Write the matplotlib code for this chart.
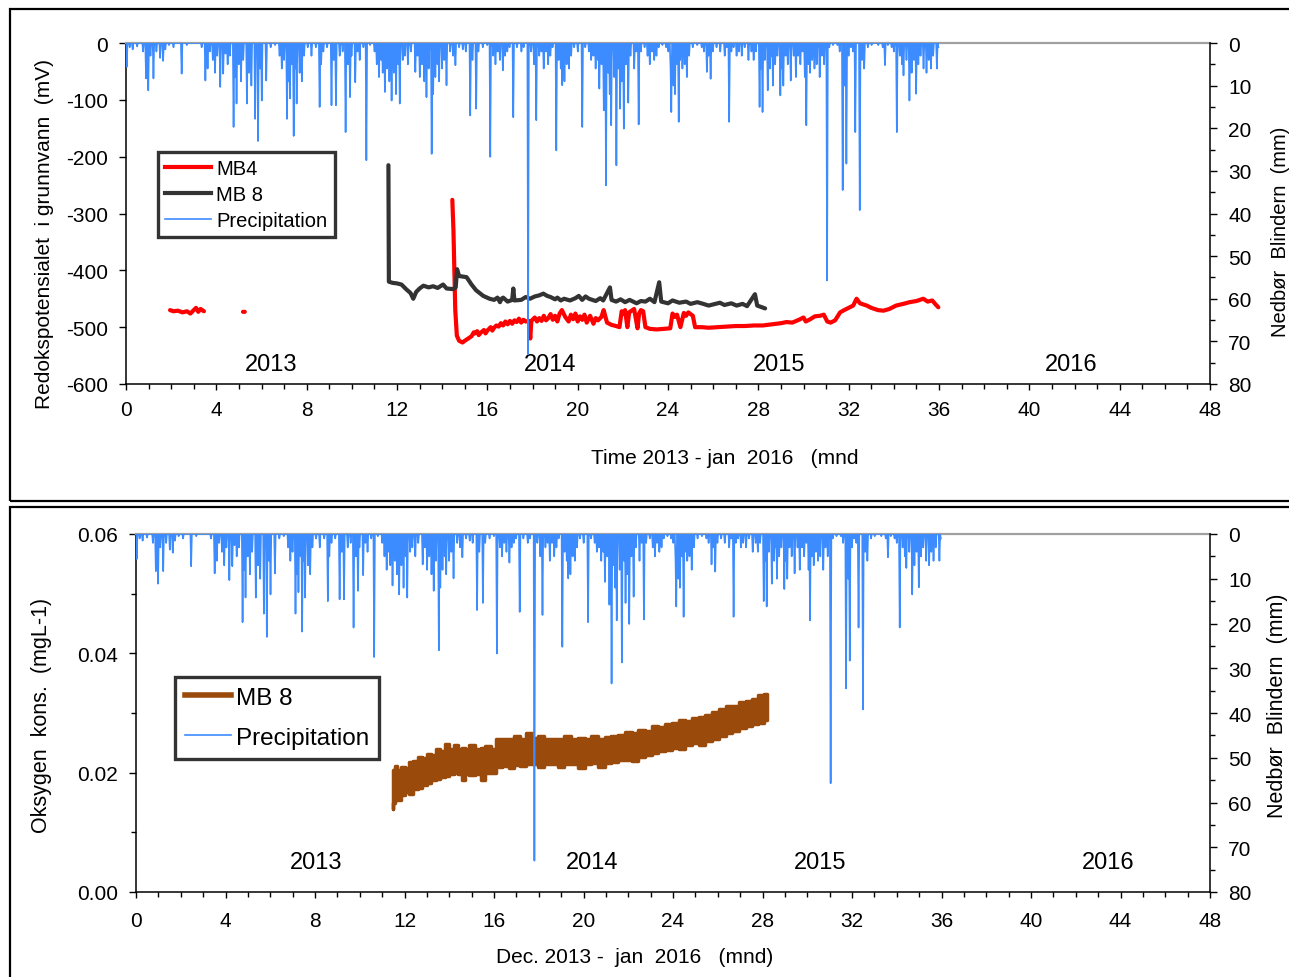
import numpy as np
import matplotlib
matplotlib.use('Agg')
import matplotlib.pyplot as plt
from matplotlib.lines import Line2D
from matplotlib.patches import Rectangle
from matplotlib.ticker import MultipleLocator, FormatStrFormatter

plt.rcParams['font.family'] = ['Liberation Sans', 'DejaVu Sans']
plt.rcParams['axes.unicode_minus'] = False

# ---------------- data ----------------
# Precipitation events (month position, mm); other days dry (0 mm)
precip_month = [0.03, 0.15, 0.3, 0.5, 0.75, 0.88, 0.99, 1.1, 1.21, 1.36, 1.5, 1.65, 1.73, 1.9, 2.1, 2.46, 2.7,
                3.35, 3.5, 3.6, 3.7, 3.85, 3.95, 4.05, 4.16, 4.3, 4.4, 4.5, 4.6, 4.75, 4.82, 4.9, 5.0, 5.1, 5.2,
                5.34, 5.45, 5.55, 5.71, 5.86, 5.93, 6.0, 6.2, 6.4, 6.6, 6.8, 6.9, 7.0, 7.12, 7.2, 7.27, 7.35,
                7.41, 7.5, 7.56, 7.7, 7.8, 7.9, 8.05, 8.2, 8.4, 8.56, 8.65, 8.75, 8.9, 9.11, 9.2, 9.3, 9.45,
                9.6, 9.74, 9.82, 9.92, 10.0, 10.14, 10.25, 10.36, 10.5, 10.63, 10.8, 11.0, 11.1, 11.2, 11.3,
                11.38, 11.47, 11.55, 11.65, 11.77, 11.85, 11.95, 12.05, 12.13, 12.25, 12.35, 12.5, 12.6, 12.8,
                12.9, 13.0, 13.1, 13.2, 13.31, 13.4, 13.54, 13.6, 13.7, 13.8, 13.87, 14.0, 14.1, 14.2, 14.35,
                14.5, 14.6, 14.75, 14.9, 15.05, 15.23, 15.35, 15.5, 15.6, 15.8, 16.0, 16.12, 16.25, 16.35,
                16.45, 16.55, 16.7, 16.8, 16.9, 17.0, 17.15, 17.3, 17.5, 17.6, 17.82, 17.95, 18.07, 18.16,
                18.3, 18.4, 18.48, 18.6, 18.7, 18.8, 18.9, 19.04, 19.15, 19.25, 19.33, 19.42, 19.5, 19.6,
                19.7, 19.85, 20.0, 20.22, 20.35, 20.5, 20.59, 20.7, 20.8, 20.9, 20.96, 21.05, 21.17, 21.26,
                21.35, 21.42, 21.5, 21.6, 21.71, 21.8, 21.87, 21.95, 22.05, 22.15, 22.25, 22.35, 22.5, 22.6,
                22.69, 22.8, 22.95, 23.1, 23.2, 23.3, 23.4, 23.5, 23.6, 23.75, 23.9, 24.0, 24.1, 24.16, 24.25,
                24.32, 24.4, 24.46, 24.55, 24.65, 24.75, 24.85, 24.95, 25.1, 25.3, 25.5, 25.6, 25.72, 25.8,
                25.9, 26.0, 26.15, 26.3, 26.5, 26.6, 26.72, 26.8, 26.9, 27.05, 27.15, 27.26, 27.4, 27.55,
                27.7, 27.8, 27.9, 28.04, 28.12, 28.19, 28.3, 28.41, 28.5, 28.58, 28.66, 28.75, 28.85, 28.96,
                29.05, 29.1, 29.2, 29.3, 29.43, 29.55, 29.65, 29.75, 29.85, 29.95, 30.05, 30.14, 30.22, 30.3,
                30.4, 30.5, 30.6, 30.7, 30.8, 30.9, 31.04, 31.15, 31.3, 31.5, 31.6, 31.73, 31.82, 31.91, 32.0,
                32.1, 32.2, 32.3, 32.49, 32.6, 32.7, 32.85, 33.0, 33.3, 33.5, 33.61, 33.75, 33.9, 34.0, 34.13,
                34.25, 34.35, 34.42, 34.55, 34.69, 34.8, 34.9, 35.0, 35.1, 35.2, 35.3, 35.45, 35.55, 35.65,
                35.75, 35.9, 35.97]
precip_mm = [5.6, 1, 1.5, 0.8, 2, 8.3, 11.1, 3, 8.3, 2, 3.5, 4.2, 1.5, 0.5, 1, 7.2, 0.5,
             1, 8.8, 6, 2, 4, 7, 3, 10.3, 7.2, 2.5, 5, 3, 19.7, 8, 14.2, 5, 9, 4,
             14.2, 7, 10, 17.8, 23, 6, 13.5, 8.8, 1, 0.5, 3, 6, 4, 17.8, 9, 13, 5,
             21.8, 6, 14.2, 7, 9, 3, 1, 3, 1, 15, 5, 2, 1, 14.6, 4, 14.6, 3,
             2, 20.9, 5, 12.7, 3, 9.2, 2, 4, 1, 27.5, 0.5, 2, 5, 8, 4,
             7, 11.5, 6, 9, 13.5, 7, 12, 5, 14.2, 4, 3, 5, 2, 6.8,
             3, 8, 5, 9, 12.7, 6, 26, 12, 8, 5, 9, 6, 4, 9.9, 2,
             3, 5.2, 1, 1.5, 2, 17, 4, 15.4, 2, 1, 0.5, 26.7, 3, 5,
             2, 4, 6.4, 3, 2, 1, 17.4, 1, 2, 1, 73, 2, 5, 18.1,
             3, 2, 6, 2, 5, 3, 1, 25.2, 4, 6, 9.9, 9, 5, 6,
             3, 1, 2, 19.7, 1, 2, 4, 3, 6, 4, 10.7, 5, 15.8, 33.4,
             7, 12, 19.3, 8, 28.7, 6, 15.4, 9, 20.1, 5, 14, 3, 6, 2,
             19.1, 2, 1, 3, 5, 2, 4, 3, 1, 0.5, 1, 2, 6, 16.2, 10,
             12, 5, 18.5, 4, 6, 5, 8, 3, 1, 0.5, 1, 2, 6.8, 3,
             8.4, 2, 1, 2, 3, 1, 18.5, 2, 1, 3, 2, 3, 1, 4,
             2, 4, 2, 15, 6, 16.2, 4, 11.1, 6, 3, 10, 5, 3, 12.3,
             6, 10, 3, 5, 8.8, 3, 8, 3, 5, 2, 8, 19.3, 5, 7,
             4, 6, 5, 8, 3, 5, 55.7, 1, 0.5, 0.5, 2, 34.5, 10, 28.3, 3,
             1, 2, 20.9, 39.2, 4, 6, 1, 0.5, 0.5, 1, 5.2, 0.5, 1, 2, 20.9,
             3, 5, 7.6, 4, 13.5, 7, 4, 11.9, 5, 3, 6, 7, 4, 6,
             3, 6, 1]

# Redox potential MB4 (mV)
mb4_month = [1.95, 2.1, 2.3, 2.5, 2.7, 2.85, 3.0, 3.1, 3.2, 3.3, 3.45, np.nan, 5.18, 5.26, np.nan,
             14.45, 14.5, 14.58, 14.65, 14.75, 14.9, 15.0, 15.15, 15.3, 15.4, 15.45, 15.55, 15.62, 15.7,
             15.85, 15.92, 16.0, 16.15, 16.22, 16.3, 16.4, 16.5, 16.6, 16.7, 16.8, 16.9, 17.0, 17.1, 17.2,
             17.3, 17.4, 17.5, 17.6, 17.7, 17.85, 17.9, 17.95, 18.1, 18.2, 18.3, 18.4, 18.5, 18.6, 18.7,
             18.8, 18.9, 19.0, 19.1, 19.2, 19.3, 19.45, 19.6, 19.7, 19.8, 19.9, 20.0, 20.1, 20.2, 20.3,
             20.4, 20.55, 20.7, 20.8, 20.9, 21.05, 21.15, 21.3, 21.5, 21.7, 21.85, 21.95, 22.02, 22.1,
             22.2, 22.28, 22.35, 22.5, 22.65, 22.72, 22.8, 22.9, 23.0, 23.2, 23.5, 23.8, 24.1, 24.2, 24.3,
             24.4, 24.55, 24.7, 24.8, 24.9, 25.1, 25.2, 25.5, 25.8, 26.2, 26.6, 27.0, 27.4, 27.8, 28.2,
             28.6, 29.0, 29.25, 29.5, 29.8, 30.0, 30.1, 30.3, 30.5, 30.73, 30.9, 31.05, 31.2, 31.4, 31.62,
             31.8, 32.0, 32.2, 32.35, 32.5, 32.8, 33.0, 33.3, 33.54, 33.8, 34.1, 34.42, 34.7, 35.0, 35.3,
             35.5, 35.7, 35.85, 35.97]
mb4_mv = [-470, -472, -471, -474, -472, -476, -470, -466, -473, -468, -472, np.nan, -473, -473, np.nan,
          -276, -330, -470, -515, -524, -527, -524, -520, -516, -509, -511, -507, -514, -510,
          -505, -511, -506, -500, -506, -501, -497, -499, -493, -497, -490, -495, -489, -494, -488,
          -491, -485, -492, -487, -490, -489, -520, -489, -483, -490, -484, -489, -480, -488, -484,
          -477, -487, -480, -490, -476, -470, -482, -490, -478, -486, -476, -490, -481, -487, -478,
          -492, -480, -494, -484, -488, -482, -470, -492, -496, -498, -500, -472, -476, -470,
          -500, -474, -472, -468, -502, -476, -470, -472, -500, -503, -504, -503, -502, -476, -482,
          -478, -500, -475, -480, -474, -480, -500, -500, -501, -500, -499, -498, -498, -497, -497,
          -495, -493, -491, -492, -487, -483, -490, -486, -481, -480, -478, -490, -492, -488, -474,
          -470, -466, -462, -450, -458, -462, -466, -470, -471, -468, -462, -459, -456, -454, -450,
          -455, -453, -460, -465]

# Redox potential MB 8 (mV)
mb8_month = [11.62, 11.64, 11.8, 12.0, 12.2, 12.4, 12.6, 12.72, 12.85, 13.0, 13.17, 13.4, 13.6, 13.8,
             14.04, 14.2, 14.48, 14.6, 14.66, 14.75, 15.08, 15.3, 15.5, 15.82, 16.1, 16.3, 16.45, 16.56,
             16.63, 16.7, 16.9, 17.1, 17.15, 17.2, 17.5, 17.7, 17.89, 18.1, 18.3, 18.48, 18.65, 18.8,
             19.0, 19.1, 19.25, 19.4, 19.66, 19.9, 20.05, 20.2, 20.35, 20.5, 20.8, 21.0, 21.13, 21.43,
             21.5, 21.7, 21.9, 22.1, 22.3, 22.61, 22.8, 23.0, 23.2, 23.4, 23.61, 23.7, 24.0, 24.2, 24.5,
             24.8, 25.0, 25.3, 25.56, 25.8, 26.0, 26.3, 26.5, 26.8, 27.04, 27.3, 27.5, 27.85, 27.95, 28.3]
mb8_mv = [-215, -420, -422, -423, -425, -433, -440, -450, -438, -432, -427, -430, -428, -431,
          -425, -432, -433, -430, -398, -410, -412, -425, -435, -445, -450, -452, -448, -456,
          -450, -448, -455, -452, -432, -453, -452, -447, -450, -446, -444, -441, -445, -447,
          -451, -448, -453, -450, -453, -449, -445, -452, -446, -450, -454, -449, -453, -430,
          -452, -455, -451, -456, -452, -458, -454, -455, -450, -456, -421, -455, -458, -453, -457,
          -455, -459, -456, -459, -462, -460, -457, -461, -458, -462, -459, -463, -442, -462, -467]

# Oxygen concentration MB 8 (mg/L): lower and upper envelope of the fluctuating record
o2_month = [11.49, 11.52, 11.6, 11.75, 11.9, 12.1, 12.3, 12.5, 12.7, 12.9, 13.1, 13.3, 13.5, 13.7,
            13.9, 14.1, 14.3, 14.5, 14.6, 14.8, 15.0, 15.3, 15.5, 15.7, 16.0, 16.2, 16.5, 16.8, 17.0,
            17.3, 17.6, 17.8, 18.1, 18.4, 18.7, 19.0, 19.3, 19.6, 19.9, 20.2, 20.5, 20.8, 21.1, 21.4,
            21.7, 22.0, 22.3, 22.6, 22.9, 23.2, 23.5, 23.8, 24.1, 24.4, 24.7, 25.0, 25.3, 25.6, 25.9,
            26.2, 26.5, 26.8, 27.1, 27.4, 27.7, 27.9, 28.2]
o2_low = [0.0139, 0.0150, 0.0160, 0.0155, 0.0162, 0.0168, 0.0165, 0.0172, 0.0175, 0.0180, 0.0183,
          0.0188, 0.0190, 0.0192, 0.0195, 0.0197, 0.0199, 0.0198, 0.0187, 0.0198, 0.0196, 0.0198,
          0.0188, 0.0199, 0.0200, 0.0210, 0.0211, 0.0207, 0.0213, 0.0212, 0.0214, 0.0214, 0.0210,
          0.0214, 0.0215, 0.0210, 0.0215, 0.0214, 0.0208, 0.0215, 0.0216, 0.0210, 0.0217, 0.0218,
          0.0221, 0.0222, 0.0220, 0.0227, 0.0230, 0.0233, 0.0236, 0.0238, 0.0242, 0.0240, 0.0247,
          0.0249, 0.0246, 0.0253, 0.0257, 0.0262, 0.0266, 0.0270, 0.0275, 0.0278, 0.0282, 0.0284,
          0.0288]
o2_high = [0.0160, 0.0205, 0.0212, 0.0205, 0.0210, 0.0208, 0.0218, 0.0220, 0.0226, 0.0224, 0.0232,
           0.0230, 0.0240, 0.0236, 0.0248, 0.0240, 0.0246, 0.0240, 0.0241, 0.0240, 0.0246, 0.0240,
           0.0241, 0.0245, 0.0240, 0.0256, 0.0257, 0.0256, 0.0262, 0.0256, 0.0266, 0.0258, 0.0262,
           0.0256, 0.0257, 0.0256, 0.0262, 0.0256, 0.0258, 0.0256, 0.0262, 0.0257, 0.0259, 0.0262,
           0.0263, 0.0268, 0.0267, 0.0272, 0.0270, 0.0278, 0.0276, 0.0282, 0.0284, 0.0288, 0.0287,
           0.0292, 0.0294, 0.0296, 0.0302, 0.0306, 0.0311, 0.0312, 0.0318, 0.0320, 0.0323, 0.0330,
           0.0332]

year_labels = ['2013', '2014', '2015', '2016']
year_pos_top = [6.42, 18.78, 28.91, 41.84]
year_pos_bot = [8.04, 20.38, 30.57, 43.44]

# ---------------- build daily precipitation ----------------
DAYS_PER_MONTH = 30.44
ndays = 1096
daily = np.zeros(ndays)
idx = np.rint(np.array(precip_month) * DAYS_PER_MONTH).astype(int)
np.maximum.at(daily, idx, np.array(precip_mm))
day_month = np.arange(ndays) / DAYS_PER_MONTH

# ---------------- figure ----------------
W, H = 1289, 978
fig = plt.figure(figsize=(W / 100, H / 100), dpi=100)

BLUE = '#3c8cff'
RED = '#ff0000'
DARK = '#333333'
BROWN = '#9a4a0a'

ax1 = fig.add_axes([126 / W, 1 - 385 / H, (1210 - 126) / W, 341 / H])
ax3 = fig.add_axes([136 / W, 1 - 893 / H, (1210 - 136) / W, 358 / H])

def style_main(ax, xpad):
    ax.set_xlim(0, 48)
    ax.xaxis.set_major_locator(MultipleLocator(4))
    ax.xaxis.set_minor_locator(MultipleLocator(1))
    ax.tick_params(axis='x', which='major', direction='out', length=4.5, width=1, labelsize=15, pad=xpad)
    ax.tick_params(axis='x', which='minor', direction='out', length=3.5, width=1)
    ax.tick_params(axis='y', which='major', direction='out', length=5, width=1, labelsize=15, pad=8)
    ax.tick_params(axis='y', which='minor', direction='out', length=3.5, width=1)
    ax.spines['right'].set_visible(False)
    ax.spines['top'].set_color('#a0a0a0')
    ax.spines['top'].set_linewidth(1.6)
    for s in ('left', 'bottom'):
        ax.spines[s].set_linewidth(1.1)
    ax.patch.set_alpha(0)

def style_precip(ax2):
    ax2.set_ylim(80, 0)
    ax2.yaxis.set_major_locator(MultipleLocator(10))
    ax2.yaxis.set_minor_locator(MultipleLocator(5))
    ax2.tick_params(axis='y', which='major', direction='out', length=5, width=1, labelsize=15, pad=8)
    ax2.tick_params(axis='y', which='minor', direction='out', length=3.5, width=1)
    for s in ('left', 'top', 'bottom'):
        ax2.spines[s].set_visible(False)
    ax2.spines['right'].set_linewidth(1.1)

# ---- top panel ----
ax1.plot(mb4_month, mb4_mv, color=RED, lw=3, solid_capstyle='round', solid_joinstyle='round')
ax1.plot(mb8_month, mb8_mv, color=DARK, lw=3, solid_capstyle='round', solid_joinstyle='round')
ax1.set_ylim(-600, 0)
ax1.yaxis.set_major_locator(MultipleLocator(100))
style_main(ax1, 7)
for lab, xp in zip(year_labels, year_pos_top):
    ax1.text(xp, -565, lab, fontsize=17, ha='center', va='center')

ax2 = ax1.twinx()
ax2.plot(day_month, daily, color=BLUE, lw=1.2)
style_precip(ax2)

leg1 = ax2.legend(handles=[Line2D([], [], color=RED, lw=3),
                           Line2D([], [], color=DARK, lw=3),
                           Line2D([], [], color=BLUE, lw=1.2)],
                  labels=['MB4', 'MB 8', 'Precipitation'],
                  loc='upper left', bbox_to_anchor=(0.0295, 0.68), borderaxespad=0,
                  fontsize=14.5, frameon=True, fancybox=False, handlelength=2.3,
                  handletextpad=0.25, labelspacing=0.35, borderpad=0.35)
leg1.get_frame().set_edgecolor('black')
leg1.get_frame().set_linewidth(2.4)

fig.text(45 / W, 1 - 234 / H, 'Redokspotensialet  i grunnvann  (mV)', rotation=90,
         fontsize=15, ha='center', va='center')
fig.text(1280 / W, 1 - 232 / H, 'Nedbør  Blindern  (mm)', rotation=90,
         fontsize=14.5, ha='center', va='center')
fig.text(725 / W, 1 - 459 / H, 'Time 2013 - jan  2016   (mnd', fontsize=15,
         ha='center', va='center')

# ---- bottom panel ----
ax3.fill_between(o2_month, o2_low, o2_high, step='mid', color=BROWN, lw=2.5, edgecolor=BROWN)
ax3.set_ylim(0, 0.06)
ax3.yaxis.set_major_locator(MultipleLocator(0.02))
ax3.yaxis.set_minor_locator(MultipleLocator(0.01))
ax3.yaxis.set_major_formatter(FormatStrFormatter('%.2f'))
style_main(ax3, 9)
for lab, xp in zip(year_labels, year_pos_bot):
    ax3.text(xp, 0.005, lab, fontsize=17, ha='center', va='center')

ax4 = ax3.twinx()
ax4.plot(day_month, daily, color=BLUE, lw=1.2)
style_precip(ax4)

leg2 = ax4.legend(handles=[Line2D([], [], color=BROWN, lw=4),
                           Line2D([], [], color=BLUE, lw=1.2)],
                  labels=['MB 8', 'Precipitation'],
                  loc='upper left', bbox_to_anchor=(0.0363, 0.6006), borderaxespad=0,
                  fontsize=17.5, frameon=True, fancybox=False, handlelength=1.9,
                  handletextpad=0.2, labelspacing=0.75, borderpad=0.4)
leg2.get_frame().set_edgecolor('black')
leg2.get_frame().set_linewidth(2.4)

fig.text(42 / W, 1 - 715 / H, 'Oksygen  kons.  (mgL-1)', rotation=90,
         fontsize=15.5, ha='center', va='center')
fig.text(1278 / W, 1 - 706 / H, 'Nedbør  Blindern  (mm)', rotation=90,
         fontsize=15.5, ha='center', va='center')
fig.text(635 / W, 1 - 958 / H, 'Dec. 2013 -  jan  2016   (mnd)', fontsize=15,
         ha='center', va='center')

# ---- outer frames ----
fig.add_artist(Rectangle((10 / W, 1 - 502 / H), 1.05, 492 / H, transform=fig.transFigure,
                         fill=False, edgecolor='black', lw=1.6))
fig.add_artist(Rectangle((10 / W, -0.05), 1.05, 1 - 508 / H + 0.05, transform=fig.transFigure,
                         fill=False, edgecolor='black', lw=1.6))

fig.savefig('out.png', dpi=100)
